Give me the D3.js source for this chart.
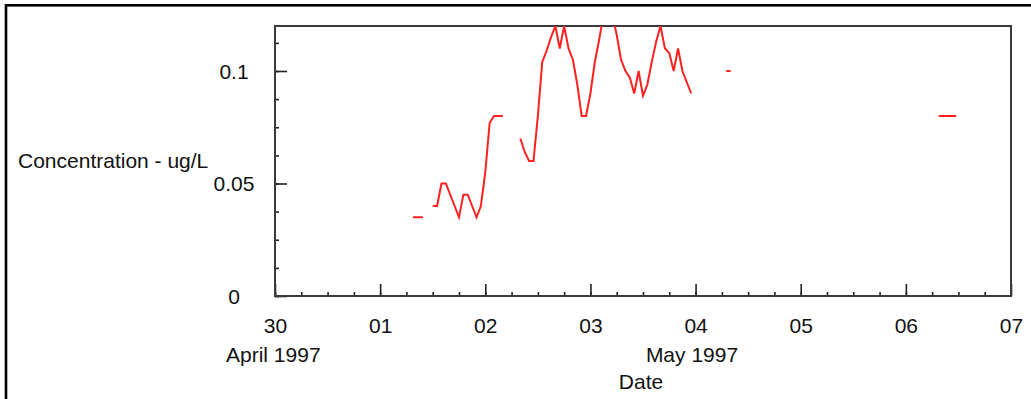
<!DOCTYPE html>
<html>
  <head>
    <style>
      body { margin: 0; background: #fff; }
      text { font-family: "Liberation Sans", Arial, sans-serif; font-size: 21px; fill: #111; }
    </style>
    <script src="https://cdn.jsdelivr.net/npm/d3@7"></script>
  </head>
  <body>
    <svg id="container" width="1031" height="399"></svg>
  </body>
  <script>
    // sample times (null value = gap in record)
    const times = [
      "1997-05-01 07:30", "1997-05-01 09:45", "1997-05-01 11:00",
      "1997-05-01 12:00", "1997-05-01 13:00", "1997-05-01 14:00", "1997-05-01 15:00",
      "1997-05-01 16:00", "1997-05-01 17:00", "1997-05-01 18:00", "1997-05-01 19:00",
      "1997-05-01 20:00", "1997-05-01 21:00", "1997-05-01 22:00", "1997-05-01 23:00",
      "1997-05-02 00:00", "1997-05-02 01:00", "1997-05-02 02:00", "1997-05-02 03:00",
      "1997-05-02 04:00", "1997-05-02 05:00",
      "1997-05-02 08:00", "1997-05-02 09:00", "1997-05-02 10:00", "1997-05-02 11:00",
      "1997-05-02 12:00", "1997-05-02 13:00", "1997-05-02 14:00", "1997-05-02 15:00",
      "1997-05-02 16:00", "1997-05-02 17:00", "1997-05-02 18:00", "1997-05-02 19:00",
      "1997-05-02 20:00", "1997-05-02 21:00", "1997-05-02 22:00", "1997-05-02 23:00",
      "1997-05-03 00:00", "1997-05-03 01:00", "1997-05-03 02:00", "1997-05-03 03:00",
      "1997-05-03 04:00", "1997-05-03 05:00", "1997-05-03 06:00", "1997-05-03 07:00",
      "1997-05-03 08:00", "1997-05-03 09:00", "1997-05-03 10:00", "1997-05-03 11:00",
      "1997-05-03 12:00", "1997-05-03 13:00", "1997-05-03 14:00", "1997-05-03 15:00",
      "1997-05-03 16:00", "1997-05-03 17:00", "1997-05-03 18:00", "1997-05-03 19:00",
      "1997-05-03 20:00", "1997-05-03 21:00", "1997-05-03 22:00", "1997-05-03 23:00",
      "1997-05-04 00:00",
      "1997-05-04 07:00", "1997-05-04 08:00", "1997-05-04 09:00",
      "1997-05-06 07:30", "1997-05-06 11:30"
    ];
    const conc = [
      0.035, 0.035, null,
      0.04, 0.04, 0.05, 0.05,
      0.045, 0.04, 0.035, 0.045,
      0.045, 0.04, 0.035, 0.04,
      0.055, 0.077, 0.08, 0.08,
      0.08, null,
      0.07, 0.064, 0.06, 0.06,
      0.08, 0.104, 0.109, 0.115,
      0.12, 0.11, 0.12, 0.11,
      0.105, 0.094, 0.08, 0.08,
      0.09, 0.104, 0.114, 0.125,
      0.13, 0.125, 0.116, 0.105,
      0.1, 0.097, 0.09, 0.1,
      0.089, 0.094, 0.104, 0.113,
      0.12, 0.11, 0.108, 0.1,
      0.11, 0.1, 0.095, 0.09,
      null,
      0.1, 0.1, null,
      0.08, 0.08
    ];
    const yMajor = [0, 0.05, 0.1];
    const xStart = "1997-04-30 00:00", xEnd = "1997-05-07 00:00";

    const parse = d3.timeParse("%Y-%m-%d %H:%M");
    const data = times.map((t, i) => ({ t: parse(t), v: conc[i] }));

    const svg = d3.select("#container");
    const plotLeft = 275, plotRight = 1011, plotTop = 26, plotBottom = 296;

    // outer border
    svg.append("rect")
      .attr("x", 6).attr("y", 5.3).attr("width", 1060).attr("height", 440)
      .attr("fill", "none").attr("stroke", "#000").attr("stroke-width", 2.6);

    const x = d3.scaleTime().domain([parse(xStart), parse(xEnd)]).range([plotLeft, plotRight]);
    const y = d3.scaleLinear().domain([0, 0.12]).range([plotBottom, plotTop]);

    svg.append("clipPath").attr("id", "plot")
      .append("rect").attr("x", plotLeft).attr("y", plotTop)
      .attr("width", plotRight - plotLeft).attr("height", plotBottom - plotTop);

    // minor ticks
    svg.append("g").attr("class", "axis")
      .attr("transform", `translate(0,${plotBottom})`)
      .call(d3.axisBottom(x).tickValues(d3.timeHour.every(6).range(parse(xStart), parse(xEnd))).tickSize(-4).tickFormat(""));
    svg.append("g").attr("class", "axis")
      .attr("transform", `translate(${plotLeft},0)`)
      .call(d3.axisLeft(y).tickValues(d3.range(0, 0.1201, 0.0125)).tickSize(-4).tickFormat(""));

    // major ticks + labels
    svg.append("g").attr("class", "axis")
      .attr("transform", `translate(0,${plotBottom})`)
      .call(d3.axisBottom(x).ticks(d3.timeDay.every(1)).tickSize(-12).tickPadding(22).tickFormat(d3.timeFormat("%d")));
    const yAxis = svg.append("g").attr("class", "axis")
      .attr("transform", `translate(${plotLeft},0)`)
      .call(d3.axisLeft(y).tickValues(yMajor).tickSize(-12).tickFormat(d3.format("")));
    yAxis.selectAll("text").attr("x", -41).attr("text-anchor", "middle").attr("dy", "0.34em");

    svg.selectAll(".axis .domain").remove();
    svg.selectAll(".axis line").attr("stroke", "#222").attr("stroke-width", 1.6);
    svg.selectAll(".axis text").style("font-size", "21px").attr("fill", "#111")
      .style("font-family", "'Liberation Sans', Arial, sans-serif");

    // frame
    svg.append("rect")
      .attr("x", plotLeft).attr("y", plotTop)
      .attr("width", plotRight - plotLeft).attr("height", plotBottom - plotTop)
      .attr("fill", "none").attr("stroke", "#3a3a3a").attr("stroke-width", 2);

    const line = d3.line()
      .defined(d => d.v != null)
      .x(d => x(d.t))
      .y(d => y(d.v));

    svg.append("path")
      .datum(data)
      .attr("clip-path", "url(#plot)")
      .attr("d", line)
      .attr("fill", "none")
      .attr("stroke", "#ff2020")
      .attr("stroke-width", 2);

    // titles
    svg.append("text").attr("x", 18).attr("y", 168).text("Concentration - ug/L");
    svg.append("text").attr("x", 226).attr("y", 362).text("April 1997");
    svg.append("text").attr("x", 692).attr("y", 362).attr("text-anchor", "middle").text("May 1997");
    svg.append("text").attr("x", (plotLeft + plotRight) / 2 - 2).attr("y", 389).attr("text-anchor", "middle").text("Date");
  </script>
</html>
